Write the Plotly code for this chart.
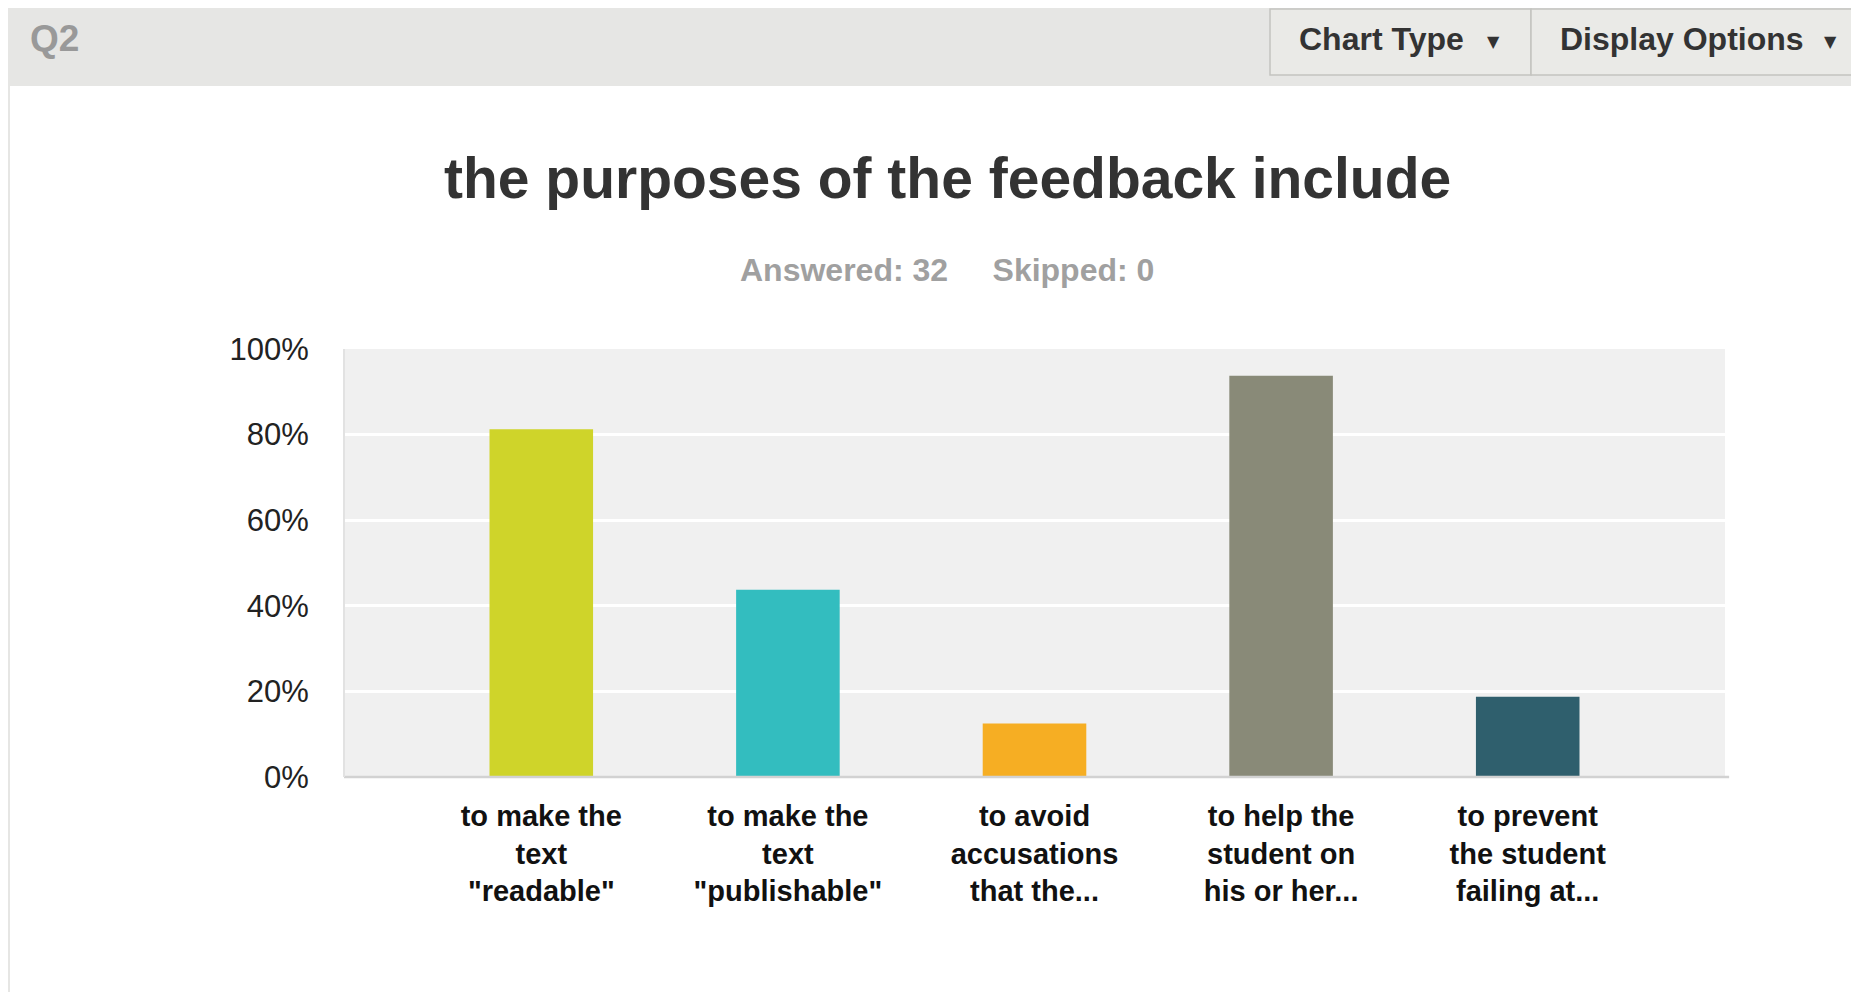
import plotly.graph_objects as go

categories = [
    'to make the<br>text<br>"readable"',
    'to make the<br>text<br>"publishable"',
    'to avoid<br>accusations<br>that the...',
    'to help the<br>student on<br>his or her...',
    'to prevent<br>the student<br>failing at...',
]
values = [81.25, 43.75, 12.5, 93.75, 18.75]
colors = ["#CFD42A", "#33BDBF", "#F6AE23", "#898A78", "#2F5F6D"]
tick_vals = [0, 20, 40, 60, 80, 100]
tick_text = ["0%", "20%", "40%", "60%", "80%", "100%"]
title_text = "the purposes of the feedback include"
subtitle_text = "Answered: 32&nbsp;&nbsp;&nbsp;&nbsp;&nbsp;Skipped: 0"

# page body has an 8px margin; work in screen pixels and shift
OFF = 8
SW, SH = 1859, 992
W, H = SW - OFF, SH - OFF
SL, SR, ST, SB = 344, 1725, 349, 777  # plot area in screen px
L, R, T, B = SL - OFF, SR - OFF, ST - OFF, SB - OFF


def px(x):
    return (x - OFF - L) / (R - L)


def py(y):
    return (B - (y - OFF)) / (B - T)


FONT = "Liberation Sans, Arial, sans-serif"

fig = go.Figure(
    go.Bar(
        x=list(range(len(categories))),
        y=values,
        marker=dict(color=colors, line=dict(width=0)),
        width=0.42,
        hoverinfo="skip",
    )
)

shapes = []
# header band
shapes.append(dict(type="rect", xref="paper", yref="paper", x0=px(OFF), x1=px(SW + 5), y0=py(86), y1=py(OFF),
                   fillcolor="#E6E6E4", line=dict(width=0), layer="below"))
# left strip
shapes.append(dict(type="rect", xref="paper", yref="paper", x0=px(OFF), x1=px(10), y0=py(SH), y1=py(OFF),
                   fillcolor="#E6E6E4", line=dict(width=0), layer="below"))
# buttons
shapes.append(dict(type="rect", xref="paper", yref="paper", x0=px(1270), x1=px(1531), y0=py(75), y1=py(9),
                   fillcolor="#EAEAE7", line=dict(width=1.5, color="#C4C4C0"), layer="below"))
shapes.append(dict(type="rect", xref="paper", yref="paper", x0=px(1531), x1=px(SW + 5), y0=py(75), y1=py(9),
                   fillcolor="#EAEAE7", line=dict(width=1.5, color="#C4C4C0"), layer="below"))
# bottom axis line
shapes.append(dict(type="line", xref="paper", yref="paper", x0=0, x1=1.003, y0=0, y1=0,
                   line=dict(width=2.5, color="#D2D2D2")))
# left light edge of plot
shapes.append(dict(type="line", xref="paper", yref="paper", x0=0, x1=0, y0=0, y1=1,
                   line=dict(width=2, color="#E2E2E2")))

annotations = [
    dict(text="<b>Q2</b>", x=px(28), y=py(38), xref="paper", yref="paper", xanchor="left", yanchor="middle",
         showarrow=False, font=dict(family=FONT, size=37, color="#999999")),
    dict(text="<b>Chart Type</b>", x=px(1297), y=py(39), xref="paper", yref="paper", xanchor="left",
         yanchor="middle", showarrow=False, font=dict(family=FONT, size=32, color="#333333")),
    dict(text="\u25BC", x=px(1493), y=py(41), xref="paper", yref="paper", xanchor="center",
         yanchor="middle", showarrow=False, font=dict(family="DejaVu Sans", size=16, color="#333333")),
    dict(text="<b>Display Options</b>", x=px(1558), y=py(39), xref="paper", yref="paper", xanchor="left",
         yanchor="middle", showarrow=False, font=dict(family=FONT, size=32, color="#333333")),
    dict(text="\u25BC", x=px(1830), y=py(41), xref="paper", yref="paper", xanchor="center",
         yanchor="middle", showarrow=False, font=dict(family="DejaVu Sans", size=16, color="#333333")),
    dict(text="<b>" + title_text + "</b>", x=px(947), y=py(178), xref="paper", yref="paper",
         xanchor="center", yanchor="middle", showarrow=False, font=dict(family=FONT, size=57, color="#333333")),
    dict(text="<b>" + subtitle_text + "</b>", x=px(947), y=py(270), xref="paper", yref="paper",
         xanchor="center", yanchor="middle", showarrow=False, font=dict(family=FONT, size=32, color="#A0A0A0")),
]

fig.update_layout(
    width=W, height=H,
    margin=dict(l=L, r=W - R, t=T, b=H - B, pad=0),
    paper_bgcolor="white",
    plot_bgcolor="#F0F0F0",
    showlegend=False,
    shapes=shapes,
    annotations=annotations,
    font=dict(family=FONT, color="#222222"),
)
fig.update_xaxes(
    range=[-0.8, len(categories) - 0.2],
    tickmode="array", tickvals=list(range(len(categories))), ticktext=["<b>" + c + "</b>" for c in categories],
    tickfont=dict(family=FONT, size=29, color="#111111"),
    showgrid=False, zeroline=False, showline=False,
    ticks="outside", ticklen=13, tickcolor="rgba(0,0,0,0)", fixedrange=True,
)
fig.update_yaxes(
    range=[0, 100],
    tickmode="array", tickvals=tick_vals, ticktext=tick_text,
    tickfont=dict(family=FONT, size=31, color="#222222"),
    showgrid=True, gridcolor="white", gridwidth=3, zeroline=False, showline=False,
    ticks="outside", ticklen=28, tickcolor="rgba(0,0,0,0)", fixedrange=True,
)

fig.write_html("out.html")
